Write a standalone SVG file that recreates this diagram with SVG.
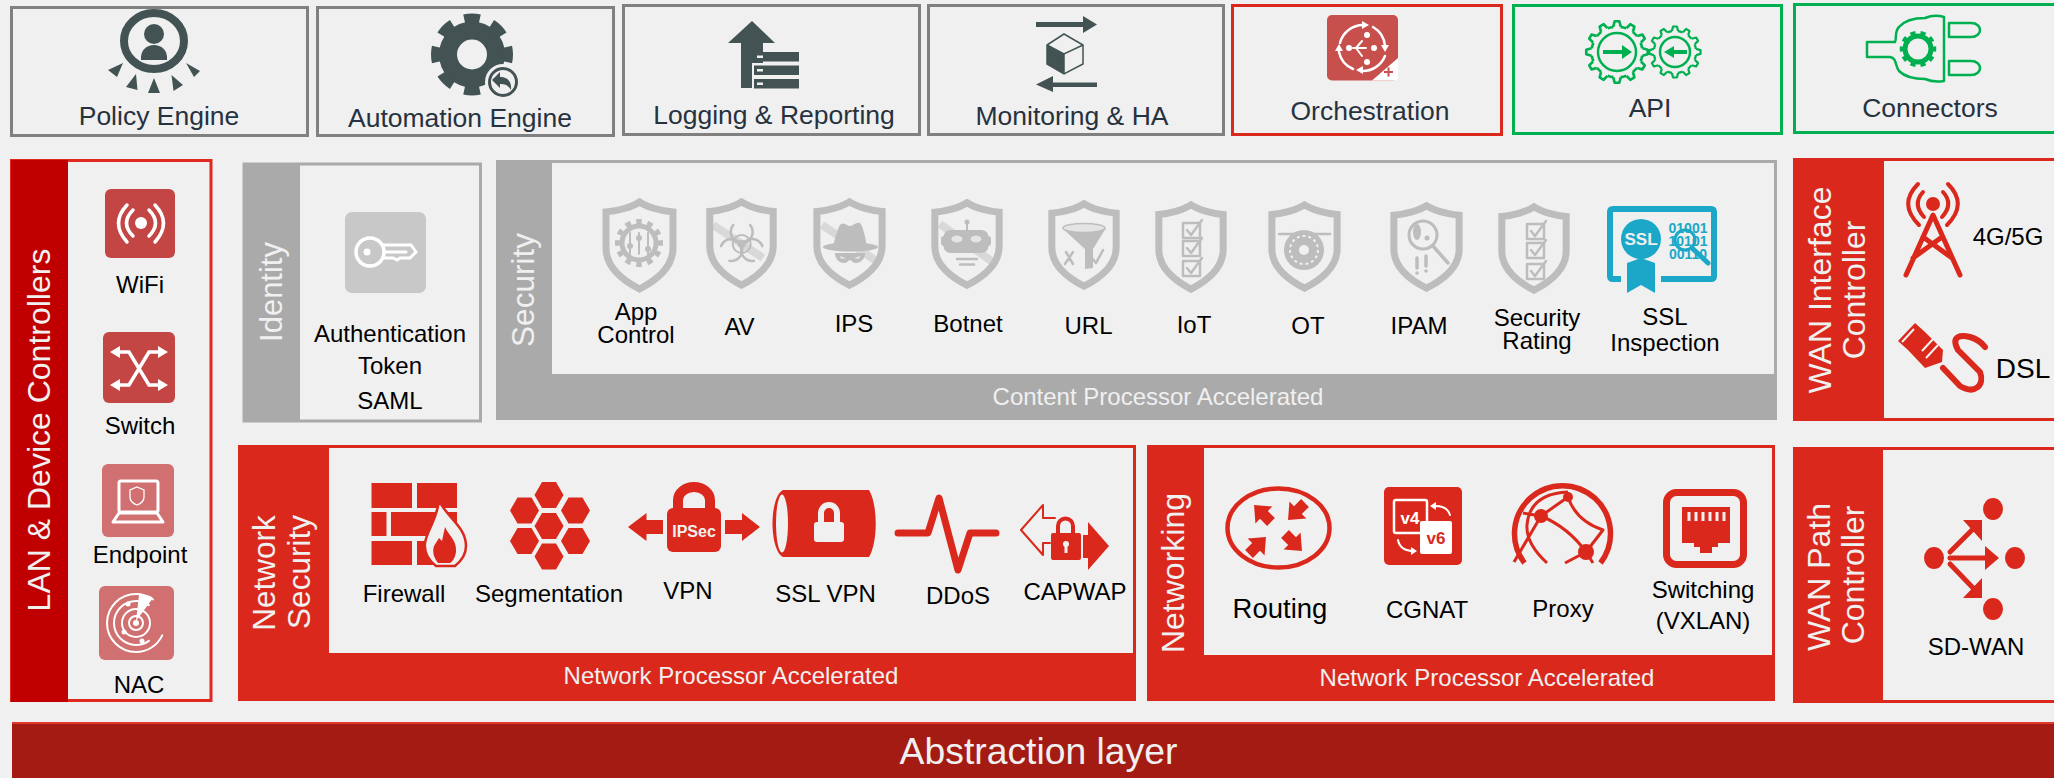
<svg xmlns="http://www.w3.org/2000/svg" xmlns:xlink="http://www.w3.org/1999/xlink" width="2054" height="778" viewBox="0 0 2054 778">
<style>
text{font-family:"Liberation Sans",Arial,sans-serif;text-anchor:middle}
.h{font-size:26.5px;fill:#27323f}
.t{font-size:24px;fill:#000}
.w{font-size:24px;fill:#f0f0f0}
.r{font-size:32px;fill:#f0f0f0}
.box{fill:#f0f0f0;stroke-width:3}
.g{stroke:#808080}.rd{stroke:#da291c}.gn{stroke:#00b050}
.rf{fill:#da291c}.gf{fill:#aaa}.df{fill:#435353}
.ws{fill:none;stroke:#fff;stroke-linecap:round}
.rs{fill:none;stroke:#da291c;stroke-linecap:round;stroke-linejoin:round}
.gi{fill:#bdbdbd}
.gs{fill:none;stroke:#bdbdbd;stroke-linecap:round;stroke-linejoin:round}
.st{fill:none;stroke:#d8d8d8;stroke-width:8}
.ggn{fill:none;stroke:#00b050;stroke-width:2.5;stroke-linejoin:round}
.shield{fill:none;stroke:#bdbdbd;stroke-width:7;vector-effect:non-scaling-stroke}
</style>
<defs>
<symbol id="shield" viewBox="0 0 75 95" preserveAspectRatio="none">
<path class="shield" d="M37.5 4C30 9 16 13 4 14V50C4 70 22 83 37.5 91C53 83 71 70 71 50V14C59 13 45 9 37.5 4Z"/>
</symbol>
<path id="hex" d="M-14.5 0L-7 -13H7L14.5 0L7 13H-7Z"/>
<path id="rarrow" d="M0 -24L-12 -10H-5.500V0H5.500V-10H12Z"/>
<path id="tooth" d="M-3.500 -24L-2.200 -29H2.200L3.500 -24"/>
<g id="cgear">
<circle r="24" pathLength="360" stroke-dasharray="13.2 16.8" stroke-dashoffset="-8.4"/>
<use xlink:href="#tooth"/><use xlink:href="#tooth" transform="rotate(30)"/><use xlink:href="#tooth" transform="rotate(60)"/><use xlink:href="#tooth" transform="rotate(90)"/><use xlink:href="#tooth" transform="rotate(120)"/><use xlink:href="#tooth" transform="rotate(150)"/><use xlink:href="#tooth" transform="rotate(180)"/><use xlink:href="#tooth" transform="rotate(210)"/><use xlink:href="#tooth" transform="rotate(240)"/><use xlink:href="#tooth" transform="rotate(270)"/><use xlink:href="#tooth" transform="rotate(300)"/><use xlink:href="#tooth" transform="rotate(330)"/>
</g>
<g id="check3">
<path d="M1 2H18V17H1Z"/><path d="M5 9L9 14L20 -1"/>
</g>
<path id="bioarc" d="M733.200 225A11 11 0 1 0 750.200 225"/>
</defs>
<rect width="2054" height="778" fill="#f0f0f0"/>

<g id="policy-engine">
<rect class="box g" x="11.500" y="7.500" width="296" height="128"/>
<ellipse cx="154" cy="41" rx="30" ry="28" fill="none" stroke="#435353" stroke-width="8"/>
<ellipse class="df" cx="154" cy="34" rx="10" ry="10"/>
<path class="df" d="M141 60C140 50 147 45 154 45C161 45 168 50 167 60Z"/>
<path class="df" d="M108 70L123 63L117 77ZM126 87L136 74L137.500 90ZM154 78L148 93H160ZM171.500 75L183 85L173.500 91ZM186 63L200 71L194 77Z"/>
<text class="h" x="159" y="125">Policy Engine</text>
</g>
<g id="automation-engine">
<rect class="box g" x="317.500" y="7.500" width="296" height="128"/>
<circle class="df" cx="472" cy="54.500" r="33"/>
<circle cx="472" cy="54.500" r="36" fill="none" stroke="#435353" stroke-width="10" pathLength="16" stroke-dasharray="1.100 .9" stroke-dashoffset="0.55"/>
<circle cx="472" cy="54.500" r="15" fill="#f0f0f0"/>
<circle cx="503" cy="82" r="18" fill="#f0f0f0"/>
<circle cx="503" cy="82" r="13.500" fill="none" stroke="#435353" stroke-width="3"/>
<path class="df" d="M492 80L500 72V77C507 77 512 81 511 90C508 85 505 84 500 84V88Z"/>
<text class="h" x="460" y="127">Automation Engine</text>
</g>
<g id="logging-reporting">
<rect class="box g" x="623.500" y="5.500" width="296" height="129"/>
<path class="df" d="M752 21L728 43H741V88H752V63H763V43H775Z"/>
<rect class="df" x="754" y="52" width="45" height="9.500"/><rect class="df" x="754" y="65.500" width="45" height="9.500"/><rect class="df" x="754" y="79" width="45" height="9.500"/>
<rect x="757" y="55.500" width="6" height="2.500" fill="#f0f0f0"/><rect x="757" y="69" width="6" height="2.500" fill="#f0f0f0"/><rect x="757" y="82.500" width="6" height="2.500" fill="#f0f0f0"/>
<text class="h" x="774" y="124">Logging &amp; Reporting</text>
</g>
<g id="monitoring-ha">
<rect class="box g" x="928.500" y="5.500" width="295" height="129"/>
<path class="df" d="M1036 22H1083V16L1097 24.500L1083 33V27H1036Z"/>
<path class="df" d="M1097 82.500H1053V76L1036 84.500L1053 92V87H1097Z"/>
<path class="df" d="M1047 45L1064 54V74L1047 64Z"/>
<path d="M1064 34L1083 45V64L1064 74L1047 64V45ZM1047 45L1064 54L1083 45M1064 54V74" fill="none" stroke="#435353" stroke-width="1.500"/>
<text class="h" x="1072" y="125">Monitoring &amp; HA</text>
</g>
<g id="orchestration">
<rect class="box rd" x="1232.500" y="5.500" width="269" height="129"/>
<rect x="1327" y="15" width="71" height="65.500" rx="5" fill="#c8504c"/>
<path class="ws" stroke-width="2.500" d="M1340 43A24 24 0 0 1 1364 25M1373 27A24 24 0 0 1 1385 46M1385 56A24 24 0 0 1 1361 71M1353 69A24 24 0 0 1 1339 52"/>
<path fill="#fff" d="M1369 25L1362 21V29ZM1385 52L1381 45H1389ZM1356 70L1363 66V74ZM1339 44L1335 51H1343Z"/>
<path class="ws" stroke-width="2" d="M1353 48H1366M1356 48L1362 41M1356 48L1362 56"/>
<circle cx="1349" cy="48" r="3" fill="#fff"/><circle cx="1367" cy="35" r="3" fill="#fff"/><circle cx="1367" cy="62" r="3" fill="#fff"/><circle cx="1374" cy="48" r="3" fill="#fff"/>
<path d="M1398 58V77Q1398 80.500 1394 80.500H1372Z" fill="#fff"/>
<path d="M1384 72H1393M1388.500 67.500V76.500" stroke="#c8504c" stroke-width="2"/>
<text class="h" x="1370" y="120">Orchestration</text>
</g>
<g id="api">
<rect class="box gn" x="1513.500" y="5.500" width="268" height="128"/>
<use xlink:href="#cgear" class="ggn" transform="translate(1617,52) scale(1.060)"/>
<circle cx="1617" cy="52" r="19" class="ggn"/>
<path fill="#00b050" d="M1603 50H1622V45L1632 52L1622 59V54H1603Z"/>
<use xlink:href="#cgear" class="ggn" transform="translate(1675,52) scale(.88)"/>
<circle cx="1675" cy="52" r="15" class="ggn"/>
<path fill="#00b050" d="M1687 50H1674V46L1664 52L1674 58V54H1687Z"/>
<text class="h" x="1650" y="117">API</text>
</g>
<g id="connectors">
<rect class="box gn" x="1794.500" y="4.500" width="300" height="128"/>
<path class="ggn" d="M1895 42H1867V57H1890C1897 58 1895 66 1899 71C1905 77 1915 79 1925 79C1932 82 1938 82 1944 81V17C1938 15 1932 15 1925 18C1915 18 1905 20 1899 27C1894 32 1897 39 1895 42Z"/>
<path class="ggn" d="M1949 23H1971C1983 23 1983 37 1971 37H1949ZM1949 61H1971C1983 61 1983 75 1971 75H1949Z"/>
<circle cx="1918" cy="49" r="13" fill="none" stroke="#00b050" stroke-width="5"/>
<circle cx="1918" cy="49" r="16" fill="none" stroke="#00b050" stroke-width="4.500" pathLength="20" stroke-dasharray="1 1" stroke-dashoffset="0.5"/>
<text class="h" x="1930" y="117">Connectors</text>
</g>

<g id="lan-device-controllers">
<rect x="11.500" y="160.500" width="199.500" height="540" fill="#f0f0f0" stroke="#e0281f" stroke-width="3"/>
<rect x="11" y="160" width="57" height="542" fill="#c00000"/>
<text class="r" transform="translate(50,430) rotate(-90)">LAN &amp; Device Controllers</text>
</g>
<g id="wifi">
<rect x="105" y="189" width="70" height="69" rx="6" fill="#c34644"/>
<circle cx="141" cy="223" r="6" fill="#fff"/>
<path class="ws" stroke-width="3.500" d="M127 205Q110 223 127 242M133 210Q120 223 133 236M155 205Q172 223 155 242M149 210Q162 223 149 236"/>
<text class="t" x="140" y="293">WiFi</text>
</g>
<g id="switch">
<rect x="103" y="332" width="72" height="71" rx="6" fill="#c34644"/>
<path class="ws" stroke-width="3.500" d="M118 352H129L149 385H160M160 352H149L129 385H118"/>
<path fill="#fff" d="M110 352L120 346V358ZM168 352L158 346V358ZM110 385L120 379V391ZM168 385L158 379V391Z"/>
<text class="t" x="140" y="434">Switch</text>
</g>
<g id="endpoint">
<rect x="102" y="464" width="72" height="73" rx="6" fill="#d07070"/>
<rect x="119" y="481" width="39" height="31" rx="2" fill="none" stroke="#fff" stroke-width="3"/>
<path d="M119 513L113 522H163L157 513Z" fill="none" stroke="#fff" stroke-width="3" stroke-linejoin="round"/>
<path d="M137 487L144 490V497C144 502 140 504 137 505C134 504 130 502 130 497V490Z" fill="none" stroke="#fff" stroke-width="1.300"/>
<text class="t" x="140" y="563">Endpoint</text>
</g>
<g id="nac">
<rect x="99" y="586" width="75" height="74" rx="6" fill="#d07070"/>
<g class="ws" stroke-width="2">
<circle cx="136" cy="623" r="29" pathLength="100" stroke-dasharray="78 22" stroke-dashoffset="-7"/>
<circle cx="136" cy="623" r="22" pathLength="100" stroke-dasharray="70 30" stroke-dashoffset="-15"/>
<circle cx="136" cy="623" r="14"/>
<circle cx="136" cy="623" r="7"/>
</g>
<circle cx="136" cy="623" r="3" fill="#fff"/>
<circle cx="128" cy="604" r="2.500" fill="#fff"/><circle cx="124" cy="632" r="2.500" fill="#fff"/><circle cx="142" cy="641" r="2.500" fill="#fff"/>
<path d="M136 621L139 595Q148 594 153 598Z" fill="#fff"/>
<text class="t" x="139" y="693">NAC</text>
</g>

<g id="identity">
<rect x="244" y="164" width="236.500" height="257" fill="#f0f0f0" stroke="#aaa" stroke-width="3"/>
<rect class="gf" x="243" y="165" width="57" height="257"/>
<text class="r" style="font-size:31px" transform="translate(282,292) rotate(-90)">Identity</text>
<rect x="345" y="212" width="81" height="81" rx="7" fill="#c8c8c8"/>
<circle cx="370" cy="252" r="14" fill="none" stroke="#fff" stroke-width="3.500"/>
<circle cx="367" cy="252" r="3.500" fill="#fff"/>
<path class="ws" stroke-width="3" d="M383 245H411L416 252L410 258H400L397 260L393 258H383M384 252H406"/>
<text class="t" x="390" y="342">Authentication</text>
<text class="t" x="390" y="374">Token</text>
<text class="t" x="390" y="409">SAML</text>
</g>

<g id="security">
<rect x="497.500" y="161.500" width="1278" height="257" fill="#f0f0f0" stroke="#aaa" stroke-width="3"/>
<rect class="gf" x="496" y="160" width="56" height="260"/>
<rect class="gf" x="496" y="374" width="1281" height="46"/>
<text class="r" style="font-size:31.500px" transform="translate(534,290) rotate(-90)">Security</text>
<text class="w" x="1158" y="405">Content Processor Accelerated</text>
</g>
<g id="app-control">
<use xlink:href="#shield" x="602" y="198" width="75" height="95"/>
<circle class="gs" cx="639" cy="243" r="17" stroke-width="5"/>
<circle cx="639" cy="243" r="21.500" fill="none" stroke="#bdbdbd" stroke-width="5" pathLength="24" stroke-dasharray="1 1" stroke-dashoffset="0.5"/>
<path class="gs" stroke-width="2" d="M630 233V254M639 233V254M648 233V254"/>
<circle class="gi" cx="630" cy="246" r="3"/><circle class="gi" cx="639" cy="238" r="3"/><circle class="gi" cx="648" cy="249" r="3"/>
<text class="t" x="636" y="320">App</text><text class="t" x="636" y="343">Control</text>
</g>
<g id="av">
<line class="st" x1="713" y1="225" x2="763" y2="258"/>
<use xlink:href="#shield" x="706" y="198" width="71" height="91"/>
<g class="gs" stroke-width="2.500">
<use xlink:href="#bioarc"/>
<use xlink:href="#bioarc" transform="rotate(120 741.700 244)"/>
<use xlink:href="#bioarc" transform="rotate(240 741.700 244)"/>
<circle cx="741.700" cy="244" r="9" stroke-width="2"/>
</g>
<circle class="gi" cx="741.700" cy="244" r="4"/>
<text class="t" x="739.500" y="335">AV</text>
</g>
<g id="ips">
<line class="st" x1="822" y1="225" x2="875" y2="260"/>
<use xlink:href="#shield" x="813" y="198" width="73" height="91"/>
<path class="gi" d="M833 246C836 236 838 226 841 224C845 222 847 226 850 226C853 226 856 222 860 223C863 226 865 236 867 246Z"/>
<ellipse class="gi" cx="850.500" cy="247" rx="27.500" ry="4.500"/>
<path class="gi" d="M835 253H865C865 260 860 263 856 263C852 263 852 260 850 260C848 260 848 263 844 263C840 263 835 260 835 253Z"/>
<path d="M840 256L846 258.500H841ZM860 256L854 258.500H859Z" fill="#f0f0f0"/>
<text class="t" x="854" y="332">IPS</text>
</g>
<g id="botnet">
<line class="st" x1="940" y1="224" x2="994" y2="263"/>
<use xlink:href="#shield" x="931" y="199" width="72" height="90"/>
<rect class="gi" x="943.500" y="230" width="45" height="23" rx="7"/>
<rect class="gi" x="941" y="236" width="50" height="10" rx="3"/>
<path class="gs" stroke-width="2" d="M967 222V230"/><circle class="gi" cx="967" cy="222" r="2.500"/>
<ellipse cx="957" cy="239" rx="5.500" ry="3.500" fill="#e4e4e4"/><ellipse cx="976" cy="239" rx="5.500" ry="3.500" fill="#e4e4e4"/>
<path class="gs" stroke-width="2.500" d="M957 259H977M960 264.500H974"/>
<text class="t" x="968" y="332">Botnet</text>
</g>
<g id="url">
<use xlink:href="#shield" x="1048" y="200" width="72" height="90"/>
<path class="gi" d="M1062 228H1106L1093 249V268L1085 269V249Z"/>
<ellipse cx="1084" cy="228" rx="21" ry="4.500" fill="#e4e4e4" stroke="#bdbdbd" stroke-width="1.500"/>
<path class="gs" stroke-width="2.500" d="M1066 252L1073 264M1073 252L1065 264M1092 258L1096 263L1103 250"/>
<text class="t" x="1088.500" y="334">URL</text>
</g>
<g id="iot">
<use xlink:href="#shield" x="1155" y="201" width="72" height="92"/>
<g class="gs" stroke-width="2.500"><use xlink:href="#check3" x="1182" y="221"/><use xlink:href="#check3" x="1182" y="239"/><use xlink:href="#check3" x="1182" y="259"/></g>
<text class="t" x="1194" y="333">IoT</text>
</g>
<g id="ot">
<use xlink:href="#shield" x="1268" y="201" width="73" height="91"/>
<path class="gs" stroke-width="2.500" d="M1279 234H1330"/>
<circle class="gi" cx="1304" cy="250" r="20"/>
<circle cx="1304" cy="250" r="14" fill="none" stroke="#f0f0f0" stroke-width="2" pathLength="30" stroke-dasharray="1 1"/>
<circle cx="1304" cy="250" r="5" fill="#f0f0f0"/>
<text class="t" x="1308" y="334">OT</text>
</g>
<g id="ipam">
<use xlink:href="#shield" x="1390" y="202" width="73" height="90"/>
<circle class="gs" cx="1423" cy="235" r="14" stroke-width="3"/>
<path class="gs" stroke-width="3.500" d="M1433 246L1448 263"/>
<ellipse class="gi" cx="1417" cy="232" rx="4" ry="8"/><circle class="gi" cx="1427" cy="238" r="2.500"/>
<path class="gs" stroke-width="3.500" d="M1417 258V268M1426 256V266"/><circle class="gi" cx="1417" cy="273" r="1.800"/><circle class="gi" cx="1426" cy="271" r="1.800"/>
<text class="t" x="1419" y="334">IPAM</text>
</g>
<g id="security-rating">
<use xlink:href="#shield" x="1498" y="203" width="72" height="91"/>
<g class="gs" stroke-width="2.500"><use xlink:href="#check3" x="1526" y="222"/><use xlink:href="#check3" x="1526" y="241"/><use xlink:href="#check3" x="1526" y="262"/></g>
<text class="t" x="1537" y="326">Security</text><text class="t" x="1537" y="349">Rating</text>
</g>
<g id="ssl-inspection">
<path d="M1621 279H1613Q1610 279 1610 276V212Q1610 209 1613 209H1711Q1714 209 1714 212V276Q1714 279 1711 279H1661" fill="none" stroke="#1ba8c8" stroke-width="6"/>
<circle cx="1641" cy="239" r="20" fill="#1ba8c8"/>
<path d="M1627 263L1641 258L1655 263V293L1641 285L1627 293Z" fill="#1ba8c8"/>
<text x="1641" y="245" style="font-size:17px;font-weight:700" fill="#f0f0f0">SSL</text>
<g style="font-size:14px;font-weight:700" fill="#1ba8c8">
<text x="1688" y="233">01001</text><text x="1688" y="246">10101</text><text x="1688" y="259">00110</text>
</g>
<circle cx="1685" cy="240" r="10" fill="none" stroke="#1ba8c8" stroke-width="3"/>
<path d="M1692 248L1708 263" stroke="#1ba8c8" stroke-width="5" stroke-linecap="round"/>
<text class="t" x="1665" y="325">SSL</text><text class="t" x="1665" y="351">Inspection</text>
</g>

<g id="wan-interface-controller">
<path d="M1884 159.500H2054M1884 419.500H2054" stroke="#da291c" stroke-width="3"/>
<rect class="rf" x="1793" y="158" width="91" height="263"/>
<text class="r" transform="translate(1831,290) rotate(-90)">WAN Interface</text>
<text class="r" transform="translate(1865,290) rotate(-90)">Controller</text>
</g>
<g id="g4-5g">
<circle class="rf" cx="1933" cy="204" r="7"/>
<path class="rs" stroke-width="4" d="M1923 192Q1912 204 1924 217M1943 192Q1954 204 1942 217M1918 184Q1898 204 1919 225M1948 184Q1968 204 1947 225"/>
<path class="rs" stroke-width="5" d="M1906 275L1933 215L1960 275M1942 237L1913 258M1923 237L1952 258"/>
<text class="t" x="2008" y="245">4G/5G</text>
</g>
<g id="dsl">
<path class="rf" d="M1898 341L1915 323L1925 332L1943 350L1942 362L1925 368L1908 350Z"/>
<path d="M1902 342L1914 329M1922 351L1934 338M1926 358L1938 345" stroke="#f0f0f0" stroke-width="2"/>
<path class="rs" stroke-width="6" d="M1943 368L1960 386C1975 395 1985 385 1980 372L1958 350C1950 335 1962 335 1970 337C1977 339 1982 343 1985 347"/>
<text x="2023" y="378" style="font-size:28px" fill="#000">DSL</text>
</g>

<g id="network-security">
<rect x="239.500" y="446.500" width="895" height="253" fill="#f0f0f0" stroke="#da291c" stroke-width="3"/>
<rect class="rf" x="238" y="445" width="91" height="256"/>
<rect class="rf" x="238" y="653" width="898" height="48"/>
<text class="r" style="font-size:31.500px" transform="translate(275,573) rotate(-90)">Network</text>
<text class="r" style="font-size:31.500px" transform="translate(310,572) rotate(-90)">Security</text>
<text class="w" x="731" y="684">Network Processor Accelerated</text>
</g>
<g id="firewall">
<path class="rf" d="M371.500 483H412V508H371.500ZM417 483H457V508H417ZM371.500 512H386.500V536H371.500ZM391 512H457V536H391ZM371.500 541H412V565H371.500ZM417 541H457V565H417Z"/>
<path d="M439 500C445 516 466 526 466 546C466 556 460 562 455 566H436C428 560 424 552 425 543C427 530 437 520 439 500Z" fill="#f0f0f0" stroke="#da291c" stroke-width="2.500"/>
<path class="rf" d="M445 527C449 536 457 540 456 552C455 558 453 561 450 563H438C434 558 432 552 434 546L439 538L442 541Z"/>
<text class="t" x="404" y="602">Firewall</text>
</g>
<g id="segmentation" class="rf">
<use xlink:href="#hex" x="549" y="526"/><use xlink:href="#hex" x="549" y="495"/><use xlink:href="#hex" x="549" y="556.500"/><use xlink:href="#hex" x="524.500" y="510.500"/><use xlink:href="#hex" x="575.500" y="510.500"/><use xlink:href="#hex" x="524.500" y="541"/><use xlink:href="#hex" x="575.500" y="541"/>
<text class="t" x="549" y="602">Segmentation</text>
</g>
<g id="vpn">
<path d="M678 510V500A16 13 0 0 1 710 500V510" fill="none" stroke="#da291c" stroke-width="10"/>
<rect class="rf" x="667" y="508" width="54" height="44" rx="6"/>
<text x="694" y="537" style="font-size:16px;font-weight:700" fill="#f0f0f0">IPSec</text>
<path class="rf" d="M628 527L646.500 513V520H663V534H646.500V541ZM760 527L742 513V520H725V534H742V541Z"/>
<text class="t" x="688" y="599">VPN</text>
</g>
<g id="ssl-vpn">
<path class="rf" d="M783 490H869C878 505 878 542 869 557H783C769 550 769 497 783 490Z"/>
<ellipse cx="782" cy="523.500" rx="6" ry="29" fill="#f0f0f0"/>
<path d="M821 524V513A8 8 0 0 1 837 513V524" fill="none" stroke="#f0f0f0" stroke-width="6"/>
<rect x="814" y="522" width="30" height="20" rx="3" fill="#f0f0f0"/>
<text class="t" x="825.500" y="602">SSL VPN</text>
</g>
<g id="ddos">
<path class="rs" stroke-width="7" d="M898 533H928L939 498L958 570L970 533H996"/>
<text class="t" x="958" y="604">DDoS</text>
</g>
<g id="capwap">
<path class="rs" stroke-width="2" d="M1055 518H1043V505L1021 530L1043 555V543H1050"/>
<path d="M1058 536V526A7.500 7.500 0 0 1 1073 526V536" fill="none" stroke="#da291c" stroke-width="4"/>
<rect class="rf" x="1051" y="533" width="30" height="27" rx="2"/>
<circle cx="1066" cy="544" r="3" fill="#f0f0f0"/><rect x="1064.500" y="545" width="3" height="8" fill="#f0f0f0"/>
<path class="rf" d="M1083 535H1088V522L1109 546L1088 570V558H1083Z"/>
<text class="t" x="1075" y="600">CAPWAP</text>
</g>

<g id="networking">
<rect x="1148.500" y="446.500" width="625" height="253" fill="#f0f0f0" stroke="#da291c" stroke-width="3"/>
<rect class="rf" x="1147" y="445" width="57" height="256"/>
<rect class="rf" x="1147" y="655" width="628" height="46"/>
<text class="r" transform="translate(1184,573) rotate(-90)">Networking</text>
<text class="w" x="1487" y="686">Network Processor Accelerated</text>
</g>
<g id="routing">
<ellipse cx="1278.500" cy="528" rx="51" ry="39.500" fill="none" stroke="#da291c" stroke-width="4.500"/>
<g class="rf">
<use xlink:href="#rarrow" transform="translate(1271,522) rotate(-45)"/>
<use xlink:href="#rarrow" transform="translate(1305,503) rotate(-135)"/>
<use xlink:href="#rarrow" transform="translate(1249,554) rotate(45)"/>
<use xlink:href="#rarrow" transform="translate(1285,534) rotate(135)"/>
</g>
<text x="1280" y="618" style="font-size:27.500px" fill="#000">Routing</text>
</g>
<g id="cgnat">
<rect class="rf" x="1384" y="487" width="78" height="78" rx="5"/>
<rect x="1394" y="500" width="33" height="33" rx="2" fill="none" stroke="#fff" stroke-width="2.500"/>
<rect x="1420" y="521" width="32" height="33" rx="2" fill="#fff"/>
<text x="1410" y="524" style="font-size:17px;font-weight:700" fill="#fff">v4</text>
<text x="1436" y="544" style="font-size:17px;font-weight:700" fill="#da291c">v6</text>
<path class="ws" stroke-width="2" d="M1433 506Q1447 505 1450 515M1398 540Q1400 551 1414 551"/>
<path fill="#fff" d="M1430 506L1436 502V510ZM1417 551L1411 547V555Z"/>
<text class="t" x="1427" y="618">CGNAT</text>
</g>
<g id="proxy">
<path class="rs" stroke-width="5.500" style="stroke-linecap:butt" d="M1524.500 563A48 48 0 1 1 1600.500 563"/>
<path class="rs" stroke-width="3" style="stroke-linecap:butt" d="M1568 492C1545 493 1529 502 1527 525C1526 540 1535 552 1547 563M1541 516L1568 497C1574 515 1588 525 1603 530L1586 552C1576 538 1560 524 1541 516M1541 516L1514 562M1523 513L1541 516M1586 552L1565 563M1586 552L1593 563"/>
<circle class="rf" cx="1568" cy="497" r="5"/><circle class="rf" cx="1541" cy="516" r="7"/><circle class="rf" cx="1586" cy="552" r="8"/>
<text class="t" x="1563" y="617">Proxy</text>
</g>
<g id="switching">
<rect x="1666.500" y="492.500" width="77" height="72" rx="10" fill="none" stroke="#da291c" stroke-width="7"/>
<path class="rf" d="M1682 507H1730V543H1718V547H1712V553H1700V547H1694V543H1682Z"/>
<path d="M1689 512V521M1696 512V521M1703 512V521M1710 512V521M1717 512V521M1724 512V521" stroke="#f0f0f0" stroke-width="3"/>
<text class="t" x="1703" y="598">Switching</text>
<text class="t" x="1703" y="629">(VXLAN)</text>
</g>

<g id="wan-path-controller">
<path d="M1883 448.500H2054M1883 701.500H2054" stroke="#da291c" stroke-width="3"/>
<rect class="rf" x="1793" y="447" width="90" height="256"/>
<text class="r" transform="translate(1830,577) rotate(-90)">WAN Path</text>
<text class="r" transform="translate(1864,575) rotate(-90)">Controller</text>
</g>
<g id="sd-wan">
<ellipse class="rf" cx="1993" cy="509" rx="10" ry="11"/><ellipse class="rf" cx="1934" cy="558" rx="10" ry="11"/><ellipse class="rf" cx="2015" cy="558" rx="10" ry="11"/><ellipse class="rf" cx="1993" cy="609" rx="10" ry="11"/>
<path class="rs" stroke-width="5" d="M1950 558H1987M1950 552L1976 526M1950 564L1976 591"/>
<path class="rf" d="M1963 520H1982V541ZM1963 598H1982V578ZM1985 546L1999 558L1985 570Z"/>
<text class="t" x="1976" y="655">SD-WAN</text>
</g>

<g id="abstraction-layer">
<rect x="12" y="722" width="2042" height="56" fill="#a31b12"/>
<rect x="12" y="722" width="2042" height="2" fill="#e0392c"/>
<text x="1038.500" y="764" style="font-size:37.300px" fill="#f0f0f0">Abstraction layer</text>
</g>
</svg>
